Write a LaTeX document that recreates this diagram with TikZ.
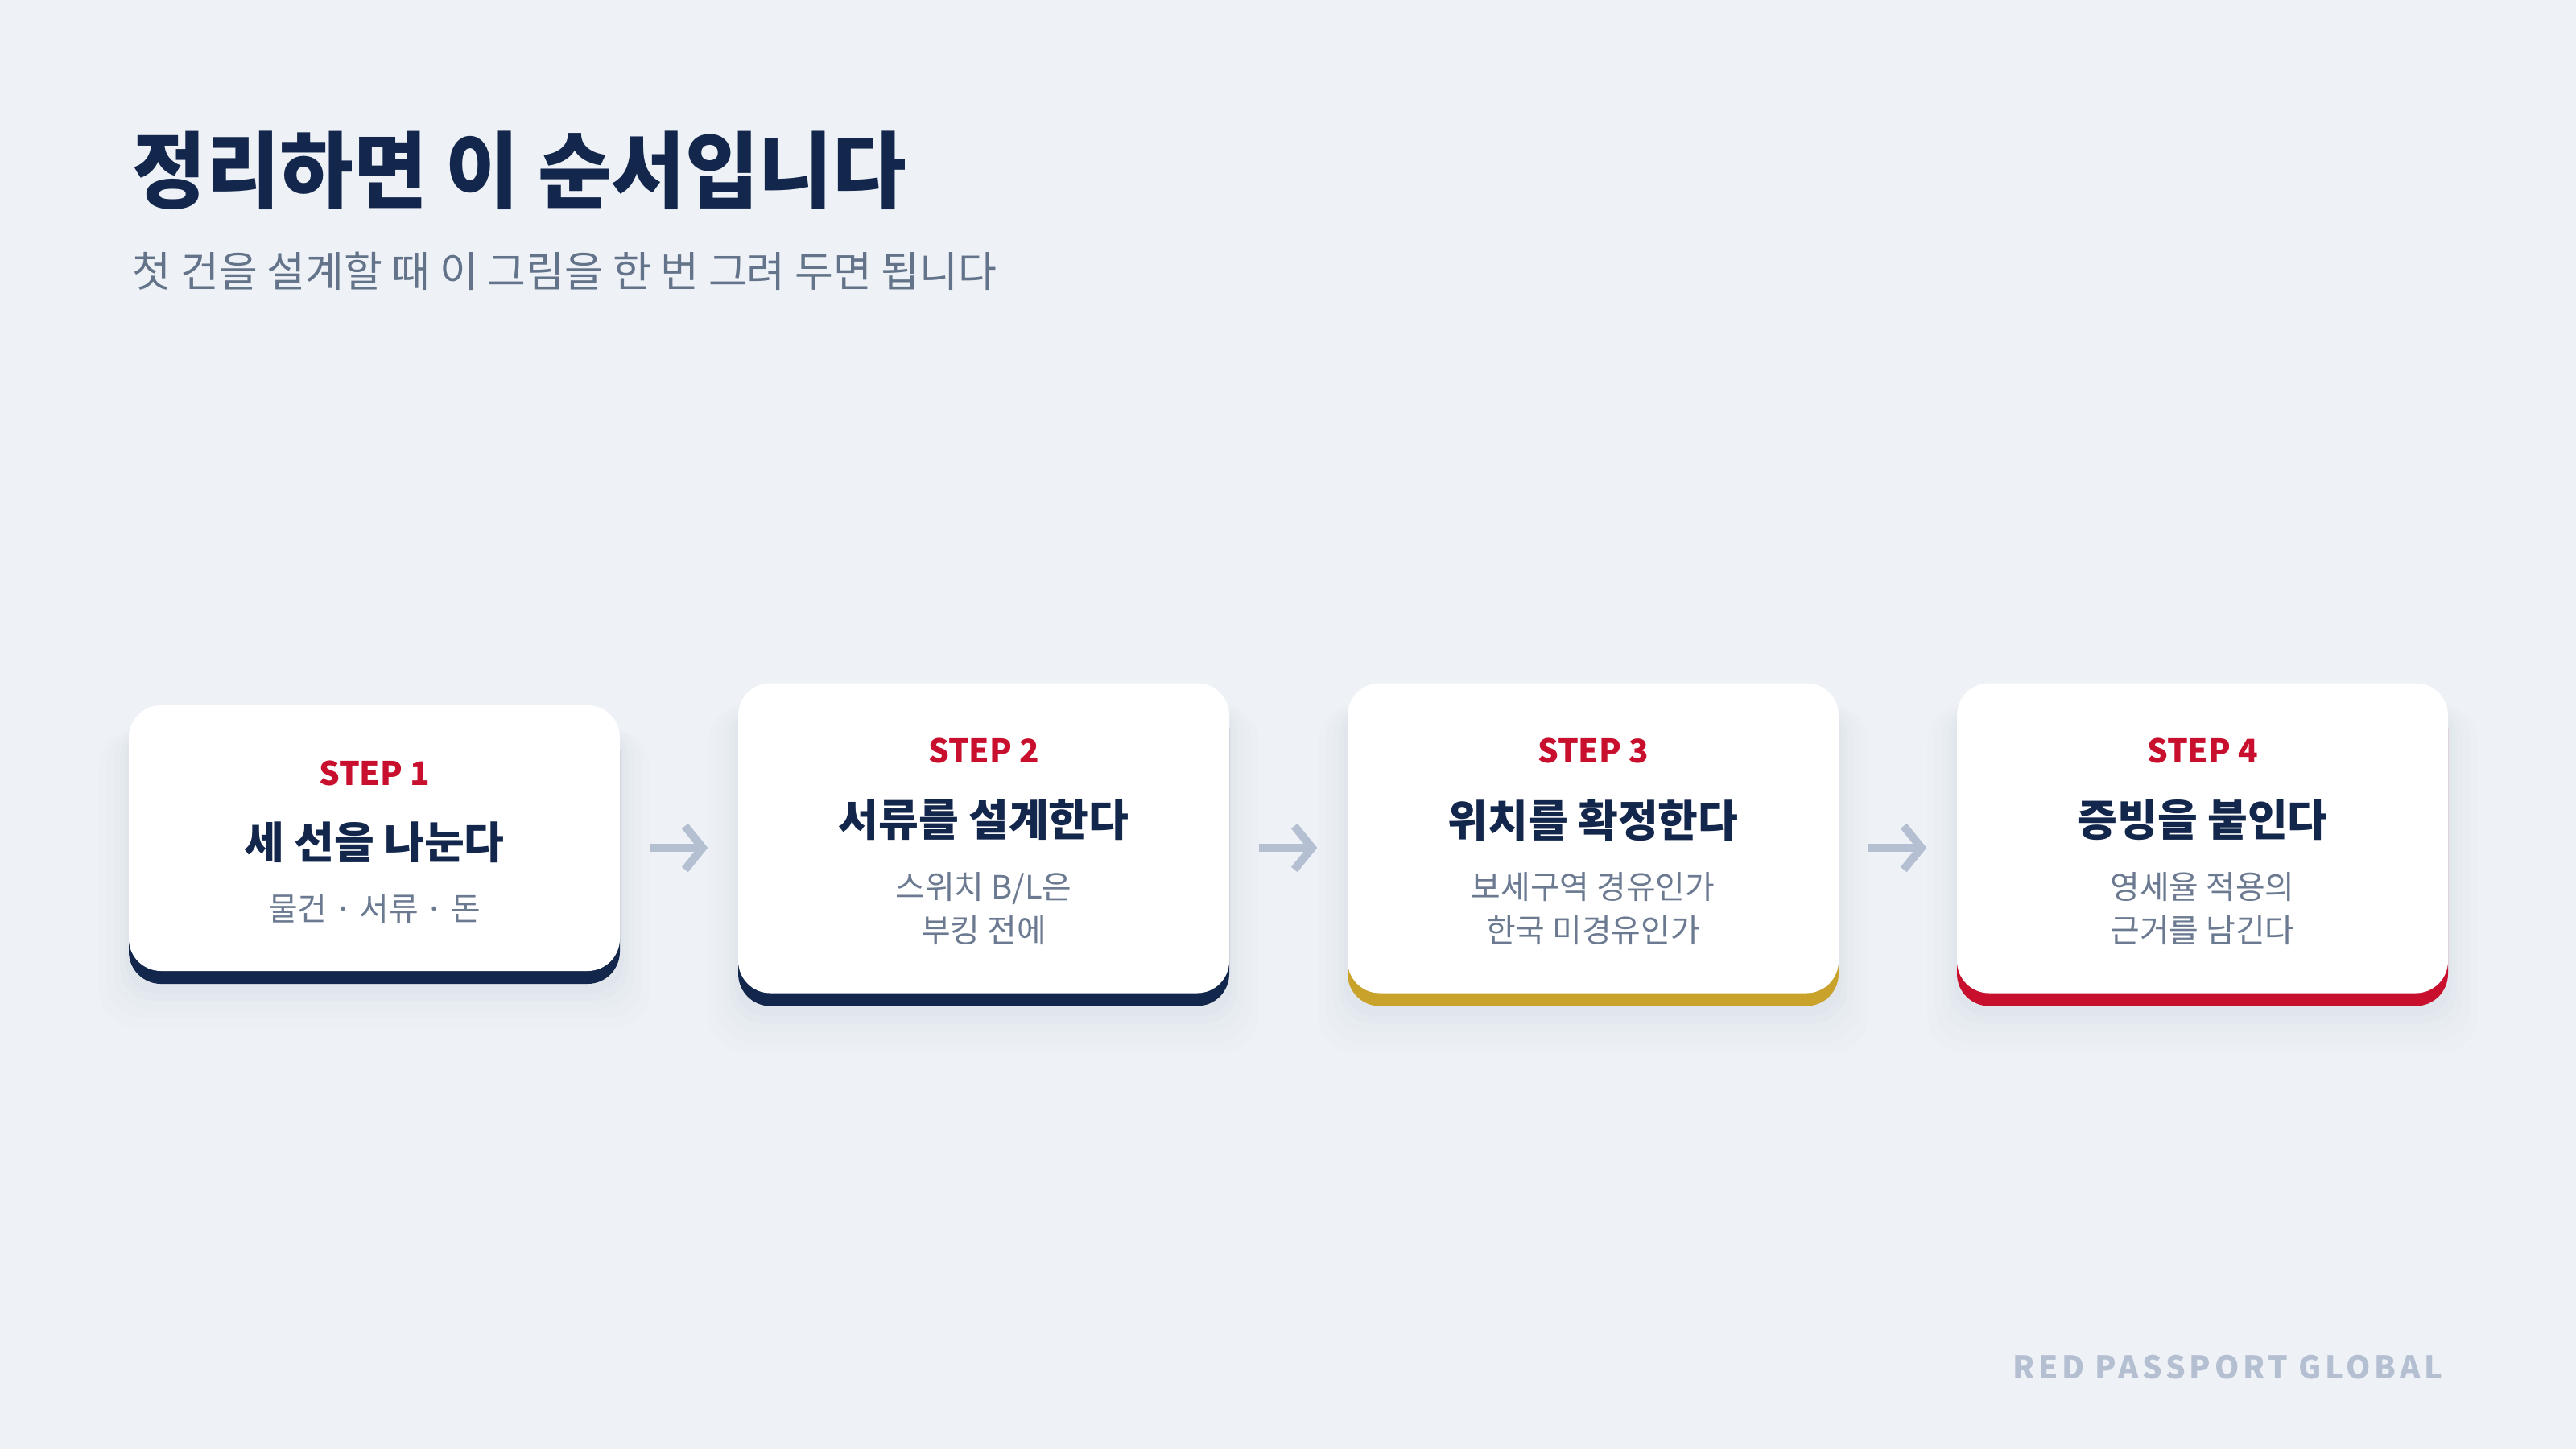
\documentclass[tikz,border=0pt]{standalone}
\usepackage{fontspec}
\setmainfont{Noto Sans CJK KR}
\newfontfamily\titlefont{Noto Sans CJK KR}[FakeStretch=0.96]
\newfontfamily\brandfont{Noto Sans CJK KR}[LetterSpace=12]
\usepackage{tikz}
\usetikzlibrary{arrows.meta,shadows}

\definecolor{bg}{HTML}{EEF2F7}
\definecolor{navy}{HTML}{13264B}
\definecolor{subgray}{HTML}{637389}
\definecolor{descgray}{HTML}{6B7A90}
\definecolor{stepred}{HTML}{C8102E}
\definecolor{gold}{HTML}{C9A22B}
\definecolor{pale}{HTML}{B4BFD1}
\definecolor{shade}{HTML}{8C9BB5}

\tikzset{
  card/.style={rectangle,rounded corners=4mm,fill=white,minimum width=6.1cm,inner sep=0pt,
    general shadow={fill=shade,opacity=.02,shadow yshift=-4.5mm,shadow scale=1.12},
    general shadow={fill=shade,opacity=.02,shadow yshift=-4mm,shadow scale=1.09},
    general shadow={fill=shade,opacity=.025,shadow yshift=-3.5mm,shadow scale=1.06},
    general shadow={fill=shade,opacity=.03,shadow yshift=-3mm,shadow scale=1.035},
    general shadow={fill=shade,opacity=.03,shadow yshift=-2.5mm,shadow scale=1.015},
    general shadow={fill=#1,shadow yshift=-1.6mm}},
  steplbl/.style={anchor=north,inner sep=0pt,text=stepred,font={\fontsize{11.5}{14}\selectfont\bfseries}},
  headlbl/.style={anchor=north,inner sep=0pt,text=navy,font={\fontsize{15.4}{18}\selectfont\bfseries}},
  desclbl/.style={anchor=north,inner sep=0pt,text=descgray,align=center,font={\fontsize{11.35}{15.6}\selectfont}},
  flowarrow/.style={draw=pale,line width=1mm,-{Straight Barb[length=2.2mm,width=5.4mm]},
    shorten <=3.6mm,shorten >=3.7mm}
}

\begin{document}
\begin{tikzpicture}
\fill[bg] (0,0) rectangle (32,-18);
\useasboundingbox (0,0) rectangle (32,-18);

\node [anchor=north west,inner sep=0pt,text=navy,font={\titlefont\fontsize{29.5}{34}\selectfont\bfseries}] (title) at(1.64,-1.62){정리하면 이 순서입니다};
\node [anchor=north west,inner sep=0pt,text=subgray,font={\fontsize{14.8}{17}\selectfont}] (sub) at(1.64,-3.12){첫 건을 설계할 때 이 그림을 한 번 그려 두면 됩니다};

\node [card=navy,minimum height=3.30cm] (c1) at(4.65,-10.41){};
\node [card=navy,minimum height=3.85cm] (c2) at(12.22,-10.41){};
\node [card=gold,minimum height=3.85cm] (c3) at(19.79,-10.41){};
\node [card=stepred,minimum height=3.85cm] (c4) at(27.36,-10.41){};

\node [steplbl] (s1) at([yshift=-6.85mm]c1.north){STEP 1};
\node [headlbl] (h1) at([yshift=-14.45mm]c1.north){세 선을 나눈다};
\node [desclbl] (d1) at([yshift=-23.45mm]c1.north){물건 · 서류 · 돈};

\node [steplbl] (s2) at([yshift=-6.85mm]c2.north){STEP 2};
\node [headlbl] (h2) at([yshift=-14.45mm]c2.north){서류를 설계한다};
\node [desclbl] (d2) at([yshift=-23.45mm]c2.north){스위치 B/L은\\부킹 전에};

\node [steplbl] (s3) at([yshift=-6.85mm]c3.north){STEP 3};
\node [headlbl] (h3) at([yshift=-14.45mm]c3.north){위치를 확정한다};
\node [desclbl] (d3) at([yshift=-23.45mm]c3.north){보세구역 경유인가\\한국 미경유인가};

\node [steplbl] (s4) at([yshift=-6.85mm]c4.north){STEP 4};
\node [headlbl] (h4) at([yshift=-14.45mm]c4.north){증빙을 붙인다};
\node [desclbl] (d4) at([yshift=-23.45mm]c4.north){영세율 적용의\\근거를 남긴다};

\draw[flowarrow] ([yshift=-1.2mm]c1.east) -- ([yshift=-1.2mm]c2.west);
\draw[flowarrow] ([yshift=-1.2mm]c2.east) -- ([yshift=-1.2mm]c3.west);
\draw[flowarrow] ([yshift=-1.2mm]c3.east) -- ([yshift=-1.2mm]c4.west);

\node [anchor=north east,inner sep=0pt,text=pale,font={\brandfont\fontsize{11}{13}\selectfont\bfseries}] (brand) at(30.35,-16.82){RED PASSPORT GLOBAL};
\end{tikzpicture}
\end{document}
